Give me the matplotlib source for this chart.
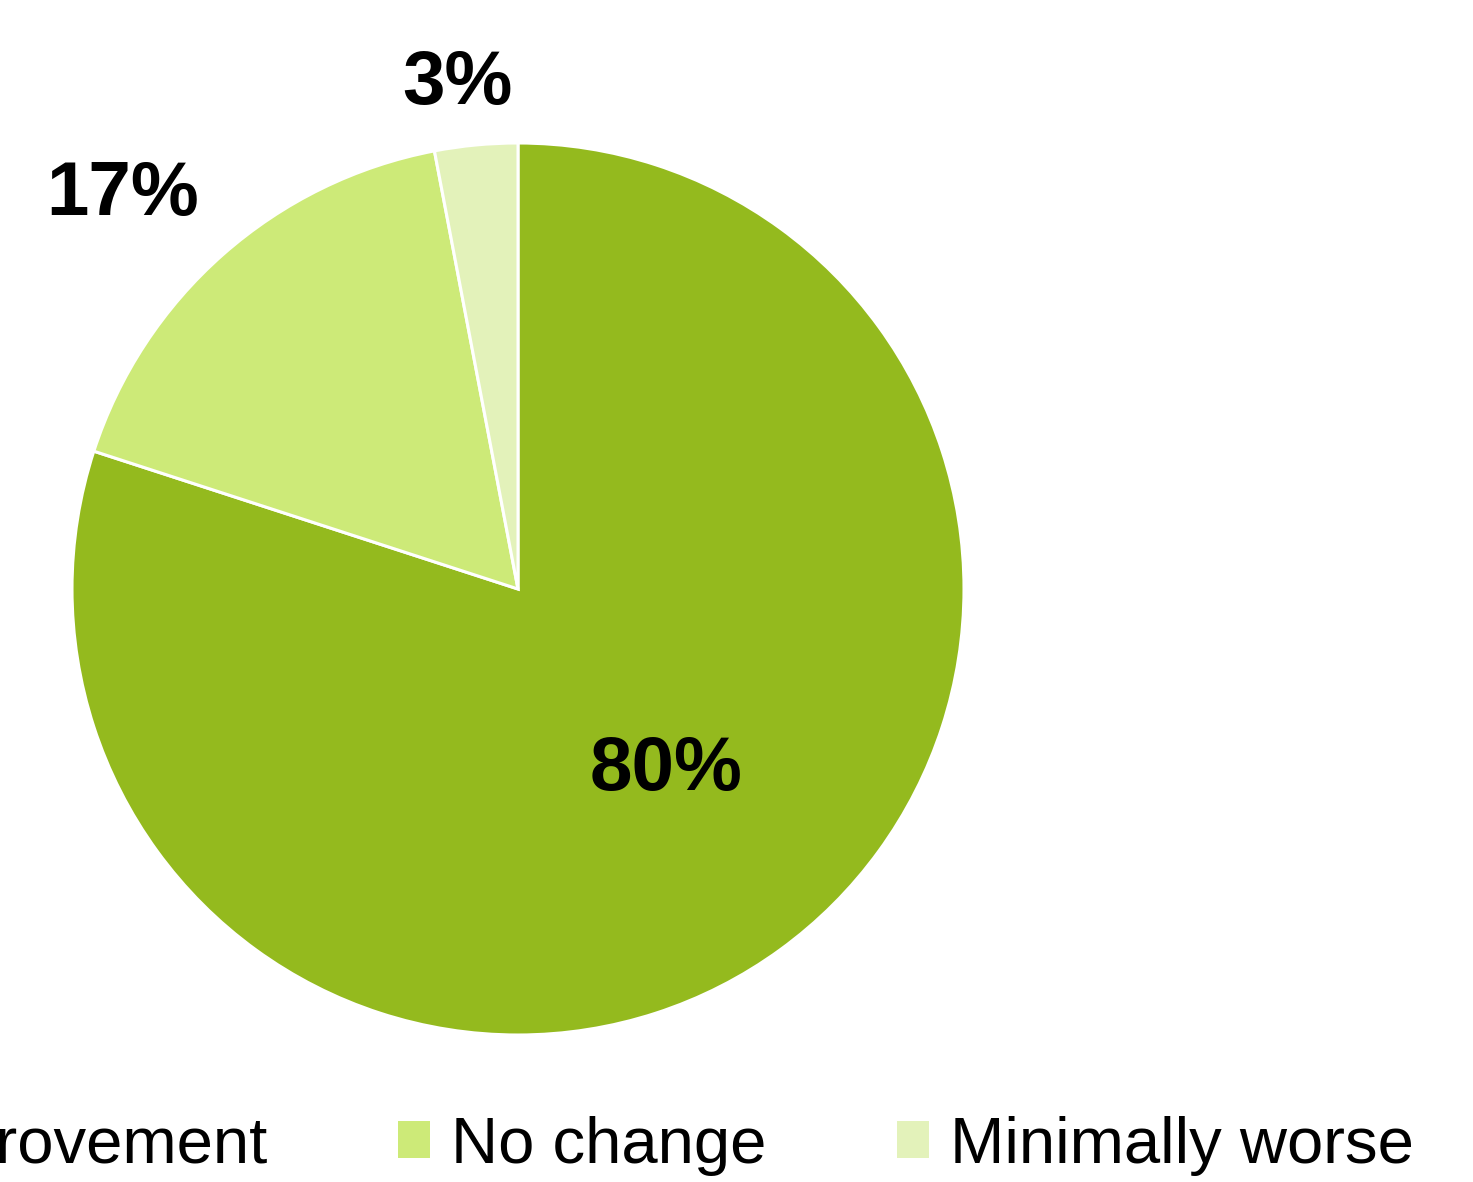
import matplotlib
matplotlib.use('Agg')
import matplotlib.pyplot as plt
from matplotlib.patches import Patch
import numpy as np

categories = ['Improvement', 'No change', 'Minimally worse']
shares = [80, 17, 3]
colors = ['#94BA1E', '#CDEA78', '#E3F2BA']

# where each percentage sits: radius (in pie radii) and angle nudge (deg)
labelRadius = [0.525, 1.25, 1.14]
labelNudge = [3.3, 3.7, 1.4]

W, H = 1473, 1182
fig = plt.figure(figsize=(W / 100, H / 100), dpi=100)
plt.rcParams['font.family'] = ['Liberation Sans', 'DejaVu Sans']

cx, cy, r = 518, 589, 446
ax = fig.add_axes([(cx - r) / W, (H - cy - r) / H, 2 * r / W, 2 * r / H])

wedges, _ = ax.pie(shares, colors=colors, startangle=90, counterclock=False,
                   wedgeprops=dict(edgecolor='white', linewidth=2.2))
ax.set_xlim(-1, 1)
ax.set_ylim(-1, 1)
ax.set_aspect('equal')
ax.axis('off')

for w, val, d, nudge in zip(wedges, shares, labelRadius, labelNudge):
    mid = np.deg2rad((w.theta1 + w.theta2) / 2 + nudge)
    ax.text(d * np.cos(mid), d * np.sin(mid), '{}%'.format(val),
            ha='center', va='center', fontsize=55, fontweight='bold',
            clip_on=False)

handles = [Patch(facecolor=c, edgecolor='none') for c in colors]
fig.legend(handles, categories, loc='center', ncol=3,
           bbox_to_anchor=(0.4236, 1 - 1146 / H), frameon=False,
           fontsize=47, handlelength=0.49, handleheight=0.49,
           handletextpad=0.32, columnspacing=2.0, borderaxespad=0)

fig.savefig('out.png', dpi=100)
